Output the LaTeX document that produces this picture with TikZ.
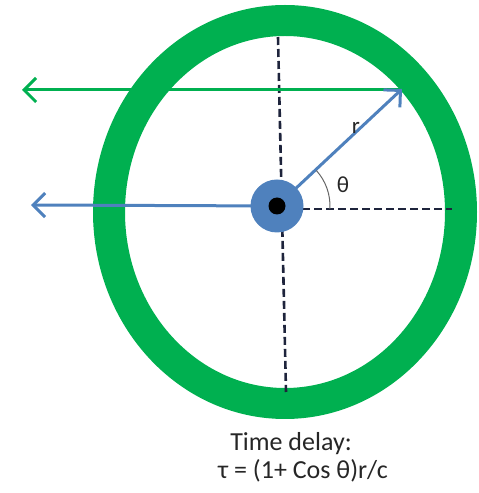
\documentclass[tikz,border=0pt]{standalone}
\usepackage{fontspec}
\setmainfont{Carlito}
\usetikzlibrary{arrows.meta,calc}
\definecolor{ringgreen}{RGB}{0,176,80}
\definecolor{dotblue}{RGB}{79,129,189}
\definecolor{dashnavy}{RGB}{30,36,60}
\tikzset{
  ray/.style={line width=3pt, -{Straight Barb[length=12pt,width=24pt,line width=3pt]}},
  axis/.style={line width=2.6pt, dashnavy, dash pattern=on 8pt off 4pt},
  lbl/.style={font=\fontsize{23}{27}\selectfont, text=black!85, inner sep=0pt}
}
\begin{document}
\begin{tikzpicture}[x=1pt,y=1pt]
\useasboundingbox (0,0) rectangle (479,493);
% ring
\fill[ringgreen, even odd rule] (285,281) ellipse [x radius=192, y radius=207]
  (285,281) ellipse [x radius=160, y radius=176];
% dashed axes
\coordinate (vtop) at (278,456);
\coordinate (vbot) at (286,101);
\coordinate (c) at (277,287);
\coordinate (hstart) at (290,284);
\coordinate (hend) at (452,284);
\draw[axis] (vtop) -- (vbot);
\draw[axis] (hstart) -- (hend);
% green ray
\coordinate (gstart) at (403,403);
\coordinate (gtip) at (22,403);
\draw[ray, ringgreen] (gstart) -- (gtip);
% blue ray
\coordinate (btip) at (31,288);
\draw[ray, dotblue] (c) -- (btip);
% radius arrow
\coordinate (rtip) at (402,404);
\draw[ray, dotblue] (c) -- (rtip);
% angle arc
\draw[line width=1pt, black!60] ($(c)+(-3:53)$) arc[start angle=-3, end angle=42, radius=53];
% dot
\node[circle, fill=dotblue, minimum size=53pt, inner sep=0pt] (dot) at (c) {};
\node[circle, fill=black, minimum size=17pt, inner sep=0pt] (core) at (c) {};
% labels
\node[lbl] (r) at (356,365) {r};
\node[lbl] (th) at (343,308) {θ};
\node[lbl, font=\fontsize{26}{30}\selectfont, anchor=base] (t1) at (291,42) {Time delay:};
\node[lbl, font=\fontsize{26}{30}\selectfont, anchor=base] (t2) at (303,15) {τ = (1+ Cos θ)r/c};
\end{tikzpicture}
\end{document}
